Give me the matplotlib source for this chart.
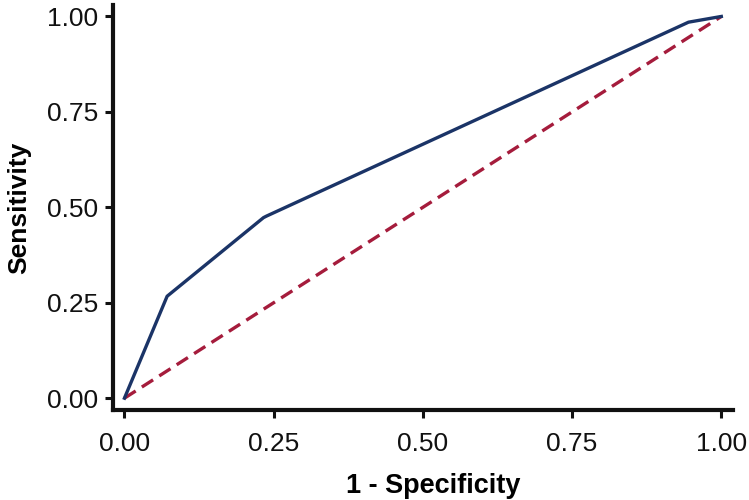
import matplotlib
matplotlib.use("Agg")
import matplotlib.pyplot as plt

plt.rcParams['font.family'] = ['Liberation Sans', 'DejaVu Sans']

# ROC curve points
fpr = [0.0, 0.0715, 0.233, 0.238, 0.945, 1.0]
tpr = [0.0, 0.267, 0.473, 0.477, 0.985, 1.0]
diag = [0.0, 1.0]
ticks = [0.0, 0.25, 0.5, 0.75, 1.0]
tick_labels = ["0.00", "0.25", "0.50", "0.75", "1.00"]

fig = plt.figure(figsize=(7.49, 5), dpi=100)
ax = fig.add_axes([0.151, 0.18, 0.828, 0.81])

ax.plot(diag, diag, color='#a51c3c', lw=2.4, ls=(0, (4, 2.2)))
ax.plot(fpr, tpr, color='#1b3467', lw=2.4)

ax.set_xlim(-0.019, 1.02)
ax.set_ylim(-0.031, 1.03)
ax.set_xticks(ticks)
ax.set_xticklabels(tick_labels)
ax.set_yticks(ticks)
ax.set_yticklabels(tick_labels)

for s in ['top', 'right']:
    ax.spines[s].set_visible(False)
for s in ['left', 'bottom']:
    ax.spines[s].set_linewidth(3)
    ax.spines[s].set_color('#111111')

ax.tick_params(width=2.2, length=6, labelsize=19, color='#111111', labelcolor='#111111')
ax.tick_params(axis='x', pad=10)
ax.tick_params(axis='y', pad=5)
ax.set_xlabel('1 - Specificity', fontsize=19.5, fontweight='bold')
ax.xaxis.set_label_coords(0.516, -0.156)
ax.set_ylabel('Sensitivity', fontsize=19, fontweight='bold', labelpad=11)

fig.savefig('out.png', dpi=100)
